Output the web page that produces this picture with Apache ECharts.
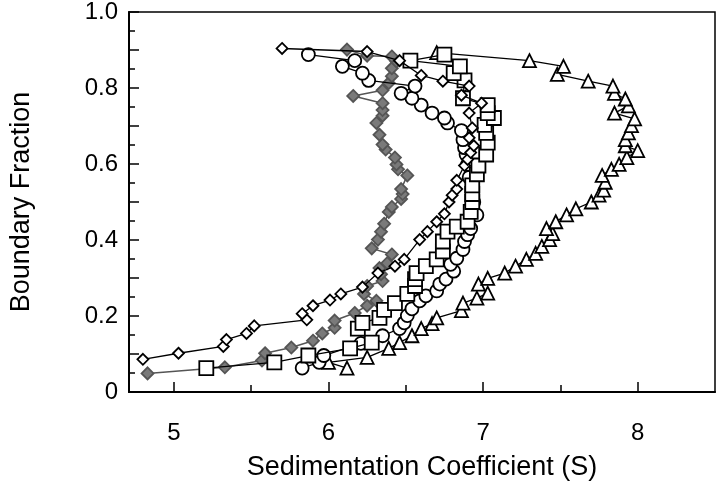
<!DOCTYPE html>
<html>
<head>
<meta charset="utf-8">
<script src="https://cdn.jsdelivr.net/npm/echarts@6/dist/echarts.min.js"></script>
<style>html,body{margin:0;padding:0;background:#fff}#c{width:720px;height:498px}</style>
</head>
<body>
<div id="c"></div>
<script>
// x = sedimentation coefficient (S), y = boundary fraction
const openDiamonds = [[4.80,0.086],[5.03,0.102],[5.32,0.120],[5.34,0.138],[5.47,0.154],[5.52,0.174],[5.86,0.190],[5.83,0.206],[5.90,0.227],[6.01,0.242],[6.08,0.258],[6.22,0.276],[6.32,0.313],[6.43,0.331],[6.49,0.349],[6.59,0.401],[6.64,0.422],[6.70,0.448],[6.75,0.469],[6.78,0.500],[6.80,0.518],[6.83,0.534],[6.83,0.557],[6.88,0.596],[6.90,0.612],[6.92,0.630],[6.94,0.648],[6.91,0.669],[6.93,0.695],[6.91,0.734],[6.99,0.760],[6.86,0.781],[6.91,0.805],[6.74,0.818],[6.60,0.833],[6.46,0.872],[6.25,0.896],[5.70,0.904]];
const grayDiamonds = [[4.83,0.049],[5.33,0.065],[5.57,0.083],[5.59,0.102],[5.76,0.117],[5.90,0.135],[5.96,0.154],[6.04,0.169],[6.04,0.188],[6.17,0.208],[6.25,0.227],[6.31,0.240],[6.23,0.258],[6.25,0.279],[6.35,0.292],[6.34,0.310],[6.33,0.326],[6.38,0.339],[6.41,0.362],[6.28,0.378],[6.32,0.401],[6.34,0.422],[6.36,0.443],[6.39,0.474],[6.41,0.487],[6.47,0.508],[6.48,0.521],[6.47,0.534],[6.51,0.570],[6.45,0.586],[6.44,0.599],[6.43,0.617],[6.37,0.638],[6.35,0.651],[6.33,0.677],[6.31,0.708],[6.35,0.727],[6.35,0.742],[6.35,0.760],[6.16,0.779],[6.35,0.794],[6.39,0.813],[6.41,0.831],[6.41,0.852],[6.44,0.870],[6.41,0.883],[6.25,0.885],[6.12,0.901]];
const circles = [[5.83,0.063],[5.94,0.078],[5.97,0.096],[6.21,0.128],[6.35,0.148],[6.46,0.167],[6.49,0.182],[6.51,0.201],[6.54,0.219],[6.59,0.240],[6.63,0.253],[6.70,0.266],[6.72,0.284],[6.76,0.297],[6.81,0.318],[6.79,0.336],[6.83,0.352],[6.87,0.375],[6.88,0.396],[6.90,0.414],[6.92,0.430],[6.96,0.466],[6.94,0.500],[6.93,0.531],[6.91,0.565],[6.90,0.599],[6.89,0.625],[6.88,0.643],[6.87,0.664],[6.86,0.688],[6.77,0.708],[6.75,0.721],[6.67,0.734],[6.60,0.755],[6.54,0.773],[6.47,0.786],[6.56,0.805],[6.26,0.820],[6.22,0.839],[6.09,0.857],[6.17,0.872],[5.87,0.888]];
const squares = [[5.21,0.063],[5.65,0.078],[5.87,0.096],[6.14,0.115],[6.28,0.130],[6.19,0.167],[6.22,0.182],[6.33,0.195],[6.36,0.216],[6.43,0.234],[6.51,0.258],[6.56,0.279],[6.56,0.297],[6.57,0.313],[6.63,0.331],[6.70,0.349],[6.74,0.370],[6.74,0.396],[6.77,0.422],[6.83,0.435],[6.90,0.448],[6.92,0.474],[6.93,0.500],[6.93,0.521],[6.93,0.544],[6.96,0.573],[6.97,0.596],[7.02,0.625],[7.03,0.656],[7.02,0.682],[7.01,0.703],[7.07,0.721],[7.03,0.734],[7.03,0.755],[6.87,0.773],[6.88,0.820],[6.81,0.839],[6.85,0.857],[6.53,0.872],[6.75,0.888]];
const triangles = [[6.12,0.063],[6.00,0.078],[6.25,0.091],[6.39,0.115],[6.46,0.130],[6.54,0.148],[6.60,0.167],[6.67,0.180],[6.70,0.195],[6.86,0.214],[6.87,0.234],[6.96,0.247],[7.03,0.260],[6.97,0.284],[7.03,0.299],[7.14,0.313],[7.21,0.331],[7.28,0.349],[7.34,0.365],[7.38,0.383],[7.43,0.401],[7.45,0.417],[7.41,0.430],[7.47,0.448],[7.54,0.466],[7.60,0.482],[7.70,0.500],[7.75,0.518],[7.78,0.531],[7.79,0.552],[7.77,0.570],[7.83,0.586],[7.88,0.599],[7.93,0.617],[8.00,0.635],[7.92,0.648],[7.92,0.664],[7.94,0.682],[7.96,0.701],[7.98,0.719],[7.85,0.734],[7.94,0.753],[7.92,0.771],[7.85,0.786],[7.84,0.805],[7.68,0.818],[7.48,0.836],[7.52,0.857],[7.30,0.872],[6.70,0.893]];
const xMajorTicks = [5, 6, 7, 8];
const xMinorTicks = [5.5, 6.5, 7.5];

const chart = echarts.init(document.getElementById('c'), null, {renderer: 'canvas'});
const font = 'Liberation Sans, Arial, sans-serif';
function mk(name, data, symbol, size, fill, stroke, lineColor, lineWidth, z) {
  return {
    name, type: 'line', data, symbol, symbolSize: size, z,
    showSymbol: true, animation: false,
    lineStyle: {color: lineColor, width: lineWidth},
    itemStyle: {color: fill, borderColor: stroke, borderWidth: 1.8}
  };
}
chart.setOption({
  animation: false,
  backgroundColor: '#fff',
  grid: {left: 129, right: 5, top: 8, bottom: 106, show: true, borderColor: '#000', borderWidth: 1.5, backgroundColor: 'transparent'},
  xAxis: [{
    type: 'value', min: 4.71, max: 8.5, position: 'bottom',
    name: 'Sedimentation Coefficient (S)', nameLocation: 'middle', nameGap: 62,
    nameTextStyle: {fontSize: 27, color: '#000', fontFamily: font},
    axisLine: {show: true, lineStyle: {color: '#000', width: 2}},
    axisTick: {show: true, inside: true, length: 10, customValues: xMajorTicks, lineStyle: {color: '#000', width: 1.5}},
    axisLabel: {show: true, customValues: xMajorTicks, fontSize: 24, margin: 29, color: '#000', fontFamily: font},
    splitLine: {show: false}
  }, {
    type: 'value', min: 4.71, max: 8.5, position: 'bottom',
    axisLine: {show: false},
    axisTick: {show: true, inside: true, length: 7, customValues: xMinorTicks, lineStyle: {color: '#000', width: 1.5}},
    axisLabel: {show: false},
    splitLine: {show: false}
  }],
  yAxis: {
    type: 'value', min: 0, max: 1, interval: 0.1,
    name: 'Boundary Fraction', nameLocation: 'middle', nameGap: 94,
    nameTextStyle: {fontSize: 27, color: '#000', fontFamily: font},
    axisLine: {show: true, lineStyle: {color: '#000', width: 2}},
    axisTick: {show: true, inside: true, length: 10, lineStyle: {color: '#000', width: 1.5}},
    minorTick: {show: true, splitNumber: 2, length: 6, lineStyle: {color: '#000', width: 1.5}},
    axisLabel: {fontSize: 24, margin: 11, color: '#000', fontFamily: font,
      formatter: v => { const k = Math.round(v * 10); if (k % 2) return ''; return k === 0 ? '0' : (k / 10).toFixed(1); }},
    splitLine: {show: false}, minorSplitLine: {show: false}
  },
  series: [
    mk('gray', grayDiamonds, 'diamond', 12, '#7a7a7a', '#555', '#555', 1.5, 2),
    mk('triangles', triangles, 'triangle', 13, '#fff', '#000', '#000', 1.3, 3),
    mk('circles', circles, 'circle', 13, '#fff', '#000', '#000', 1.3, 4),
    mk('squares', squares, 'rect', 14, '#fff', '#000', '#000', 1.3, 5),
    mk('diamonds', openDiamonds, 'diamond', 11, '#fff', '#000', '#000', 1.3, 6)
  ]
});
</script>
</body>
</html>
